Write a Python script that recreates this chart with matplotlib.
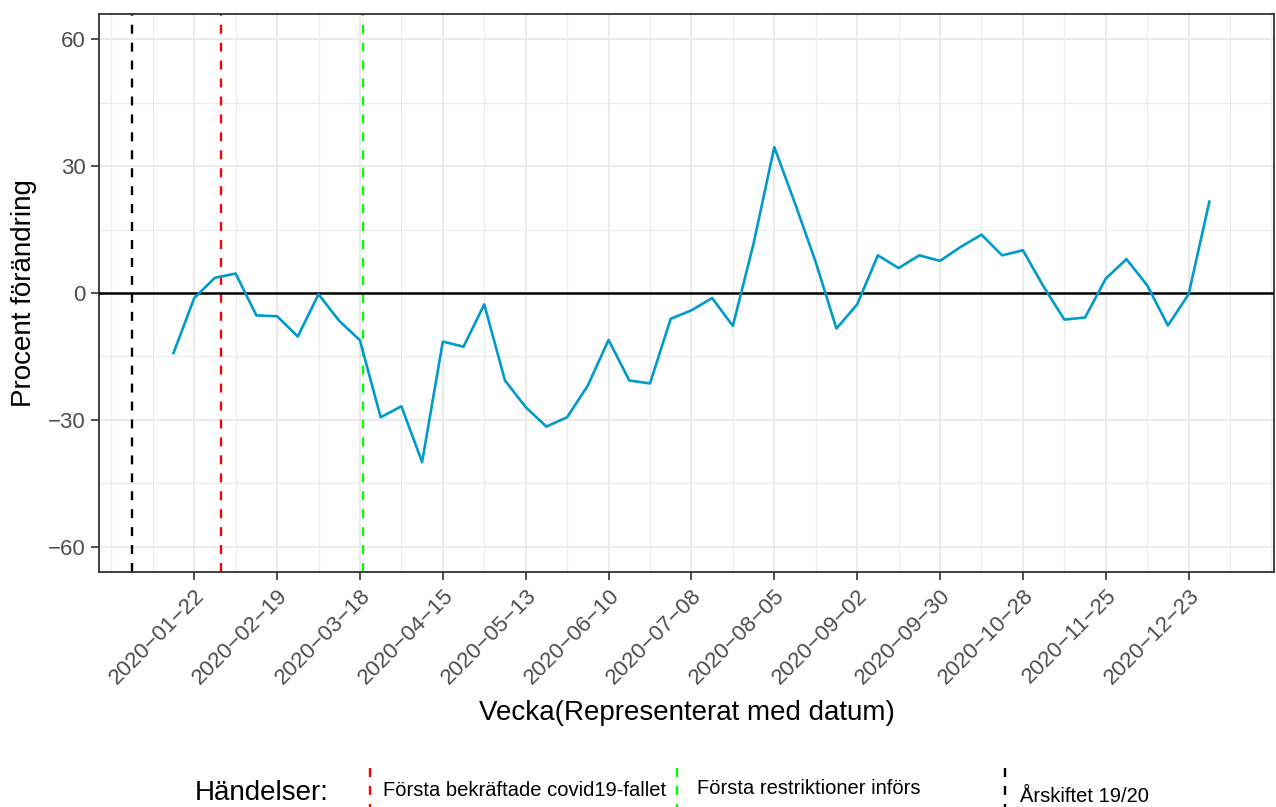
import pandas as pd
import numpy as np
import matplotlib
matplotlib.use("Agg")
import matplotlib.pyplot as plt
import matplotlib.dates as mdates
from matplotlib.lines import Line2D

plt.rcParams['font.family'] = ['Liberation Sans', 'DejaVu Sans']

# weekly points, one per Wednesday
weeks = pd.date_range("2020-01-15", periods=51, freq="7D")
change = [-14.2, -1.2, 3.6, 4.6, -5.3, -5.5, -10.3, -0.3, -6.6, -11.2,
          -29.4, -26.8, -40.0, -11.5, -12.7, -2.7, -20.7, -27.0, -31.6, -29.4,
          -21.9, -11.1, -20.7, -21.4, -6.1, -4.1, -1.2, -7.8, 11.7, 34.5,
          21.2, 7.3, -8.4, -2.7, 8.9, 5.9, 8.9, 7.6, 10.9, 13.8,
          8.9, 10.1, 1.5, -6.3, -5.8, 3.4, 8.0, 1.8, -7.7, -0.3,
          21.6]

# events (vertical lines)
event_dates = ["2020-01-31", "2020-03-19", "2020-01-01"]
event_labels = ["Första bekräftade covid19-fallet", "Första restriktioner införs", "Årskiftet 19/20"]
event_colors = ["#FF0000", "#00FF00", "#000000"]

yticks = [-60, -30, 0, 30, 60]

fig = plt.figure(figsize=(12.76, 8.07), dpi=100)
ax = fig.add_axes([0.0776, 0.2912, 0.9984 - 0.0776, 0.9827 - 0.2912])

# grid like theme_bw
ax.set_axisbelow(True)
ax.grid(True, which="major", color="#EBEBEB", linewidth=1.4)
ax.grid(True, which="minor", color="#EBEBEB", linewidth=0.8)

for d, c in zip(event_dates, event_colors):
    ax.axvline(pd.Timestamp(d), color=c, linewidth=1.7, linestyle=(0, (3.8, 3.8)), zorder=2)

ax.axhline(0, color="black", linewidth=1.8, zorder=3)
ax.plot(weeks, change, color="#009ACD", linewidth=1.9, zorder=4)

# axes limits and ticks
ax.set_xlim(pd.Timestamp("2019-12-20 20:00"), pd.Timestamp("2021-01-20 20:00"))
ax.set_ylim(-66, 66)
ax.set_yticks(yticks)
ax.set_yticks([-45, -15, 15, 45], minor=True)

major_ticks = pd.date_range("2020-01-22", "2020-12-23", freq="28D")
minor_ticks = pd.date_range("2019-12-25", "2021-01-20", freq="14D")
ax.set_xticks(major_ticks)
ax.set_xticks(minor_ticks, minor=True)
ax.xaxis.set_major_formatter(mdates.DateFormatter("%Y\u2212%m\u2212%d"))
ax.set_yticklabels([str(v).replace("-", "\u2212") for v in yticks])

ax.tick_params(axis="both", which="major", labelsize=16, colors="#333333",
               labelcolor="#4D4D4D", length=6, width=1.2)
ax.tick_params(axis="both", which="minor", length=0)
for lab in ax.get_xticklabels():
    lab.set_rotation(45)
    lab.set_ha("right")
    lab.set_va("top")
    lab.set_rotation_mode("anchor")

for s in ax.spines.values():
    s.set_color("#333333")
    s.set_linewidth(1.3)

ax.set_xlabel("Vecka(Representerat med datum)", fontsize=20, labelpad=8)
ax.set_ylabel("Procent förändring", fontsize=20, labelpad=8)

# legend at the bottom, built by hand
fig.text(195 / 1276, 1 - 793 / 807, "Händelser:", fontsize=20, ha="left", va="center")
key_x = [370, 677, 1005]
text_x = [383, 697, 1020]
text_y = [790, 788, 796]
key_top = [768, 768, 768]
for kx, tx, ty, kt, lab, c in zip(key_x, text_x, text_y, key_top, event_labels, event_colors):
    fig.add_artist(Line2D([kx / 1276, kx / 1276], [1 - kt / 807, 0.0], color=c,
                          linewidth=1.7, linestyle=(0, (3.8, 3.8)), transform=fig.transFigure))
    fig.text(tx / 1276, 1 - ty / 807, lab, fontsize=14.5, ha="left", va="center")

plt.savefig("out.png", dpi=100)
